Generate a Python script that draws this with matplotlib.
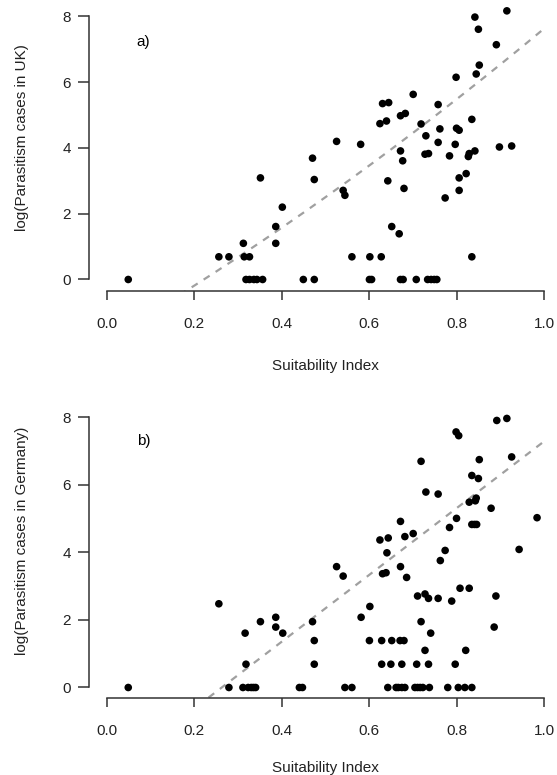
import numpy as np
import matplotlib
matplotlib.use('Agg')
import matplotlib.pyplot as plt

plt.rcParams['font.family'] = ['Liberation Sans', 'DejaVu Sans']
plt.rcParams['font.size'] = 11

# panel a) UK
uk_x = [0.049, 0.256, 0.279, 0.312, 0.314, 0.326, 0.318, 0.326, 0.336, 0.343, 0.356,
        0.351, 0.386, 0.386, 0.401, 0.449, 0.474, 0.470, 0.474,
        0.525, 0.540, 0.544, 0.560, 0.580, 0.601, 0.600, 0.605, 0.627,
        0.624, 0.639, 0.630, 0.644, 0.642, 0.651, 0.668,
        0.671, 0.676, 0.679, 0.671, 0.682, 0.671, 0.677,
        0.700, 0.707, 0.718, 0.729, 0.727, 0.735, 0.733, 0.741, 0.748, 0.754,
        0.757, 0.761, 0.757, 0.773, 0.783, 0.798, 0.799, 0.805, 0.796, 0.805, 0.821, 0.805,
        0.828, 0.826, 0.841, 0.834, 0.834, 0.844, 0.851, 0.841, 0.849, 0.890, 0.914, 0.897, 0.925]
uk_y = [0, 0.69, 0.69, 1.10, 0.69, 0.69, 0, 0, 0, 0, 0,
        3.09, 1.10, 1.61, 2.20, 0, 0, 3.69, 3.04,
        4.20, 2.71, 2.56, 0.69, 4.11, 0.69, 0, 0, 0.69,
        4.74, 4.82, 5.35, 5.38, 3.00, 1.61, 1.39,
        3.91, 3.61, 2.77, 4.98, 5.05, 0, 0,
        5.63, 0, 4.73, 4.37, 3.81, 3.83, 0, 0, 0, 0,
        5.32, 4.58, 4.17, 2.48, 3.76, 6.15, 4.60, 4.54, 4.11, 3.09, 3.22, 2.71,
        3.83, 3.74, 3.91, 4.87, 0.69, 6.25, 6.52, 7.98, 7.61, 7.14, 8.17, 4.03, 4.06]

# panel b) Germany
de_x = [0.049, 0.256, 0.279, 0.316, 0.318, 0.311, 0.323, 0.330, 0.335, 0.340,
        0.351, 0.386, 0.386, 0.402, 0.440, 0.447,
        0.470, 0.474, 0.474, 0.525, 0.540, 0.544, 0.560,
        0.581, 0.601, 0.600, 0.624, 0.643, 0.640, 0.630, 0.638,
        0.628, 0.651, 0.628, 0.649, 0.642, 0.661, 0.666, 0.674, 0.681,
        0.671, 0.681, 0.700, 0.671, 0.685, 0.670, 0.679, 0.674,
        0.718, 0.729, 0.757, 0.710, 0.727, 0.735, 0.757, 0.718, 0.740, 0.727, 0.708, 0.735,
        0.704, 0.710, 0.716, 0.722, 0.737,
        0.779, 0.803, 0.818, 0.834, 0.796, 0.820, 0.788, 0.807, 0.828,
        0.762, 0.773, 0.783, 0.799, 0.798, 0.804,
        0.828, 0.842, 0.844, 0.834, 0.840, 0.845,
        0.834, 0.849, 0.851, 0.878, 0.891, 0.914, 0.925,
        0.889, 0.885, 0.942, 0.983]
de_y = [0, 2.48, 0, 1.61, 0.69, 0, 0, 0, 0, 0,
        1.95, 2.08, 1.79, 1.61, 0, 0,
        1.95, 1.39, 0.69, 3.58, 3.30, 0, 0,
        2.08, 2.40, 1.39, 4.37, 4.43, 3.99, 3.37, 3.40,
        1.39, 1.39, 0.69, 0.69, 0, 0, 0, 0, 0,
        4.92, 4.47, 4.56, 3.58, 3.26, 1.39, 1.39, 0.69,
        6.70, 5.79, 5.73, 2.71, 2.77, 2.64, 2.64, 1.95, 1.61, 1.10, 0.69, 0.69,
        0, 0, 0, 0, 0,
        0, 0, 0, 0, 0.69, 1.10, 2.56, 2.94, 2.94,
        3.76, 4.06, 4.74, 5.01, 7.57, 7.46,
        5.49, 5.53, 5.61, 4.83, 4.83, 4.83,
        6.28, 6.19, 6.75, 5.31, 7.91, 7.97, 6.83,
        2.71, 1.79, 4.09, 5.03]

# fitted curves (polynomial coefficients, highest power first)
uk_fit = [1.61, 7.85, -1.82]
de_fit = [9.9, -2.60]

xticks = [0.0, 0.2, 0.4, 0.6, 0.8, 1.0]
yticks = [0, 2, 4, 6, 8]

fig = plt.figure(figsize=(5.57, 7.75), dpi=100)
W, H = 557.0, 775.0

panels = [
    (uk_x, uk_y, uk_fit, 'a)', 'log(Parasitism cases in UK)', 291.0, (-0.35, 8.5), 7.23, 0.526, 74.7),
    (de_x, de_y, de_fit, 'b)', 'log(Parasitism cases in Germany)', 698.3, (-0.32, 8.3), 7.31, 0.541, 69.5),
]

for xs, ys, fit, tag, ylab, bot, ylim, tag_y, ylab_pos, xlab_off in panels:
    ax = fig.add_axes([89.3 / W, 1 - bot / H, 472.7 / W, 291.0 / H])
    ax.set_xlim(-0.04, 1.04)
    ax.set_ylim(*ylim)
    xx = np.linspace(0, 1, 200)
    ax.plot(xx, np.polyval(fit, xx), color='#a0a0a0', lw=1.6, dashes=(3.2, 3.2), zorder=1)
    ax.scatter(xs, ys, s=30, color='black', edgecolors='none', zorder=2)
    ax.text(0.084, tag_y, tag, ha='center', va='center', fontsize=11)

    for s in ['top', 'right']:
        ax.spines[s].set_visible(False)
    ax.spines['left'].set_bounds(0, 8)
    ax.spines['bottom'].set_bounds(0, 1)
    for s in ['left', 'bottom']:
        ax.spines[s].set_color('#333333')
        ax.spines[s].set_linewidth(1.1)
    ax.set_xticks(xticks)
    ax.set_xticklabels(['%.1f' % t for t in xticks])
    ax.set_yticks(yticks)
    ax.tick_params(axis='x', length=6.5, width=1.1, color='#333333', pad=12, labelsize=11, labelcolor='#222222')
    ax.tick_params(axis='y', length=8, width=1.1, color='#333333', pad=5, labelsize=11, labelcolor='#222222')
    ax.patch.set_visible(False)

    ax.text(0.5, -xlab_off / 291.0, 'Suitability Index', transform=ax.transAxes,
            ha='center', va='center', fontsize=11, color='#222222')
    ax.text(-67.6 / 472.7, ylab_pos, ylab, transform=ax.transAxes, rotation=90,
            ha='center', va='center', fontsize=11, color='#222222')

fig.savefig('out.png', dpi=100)
